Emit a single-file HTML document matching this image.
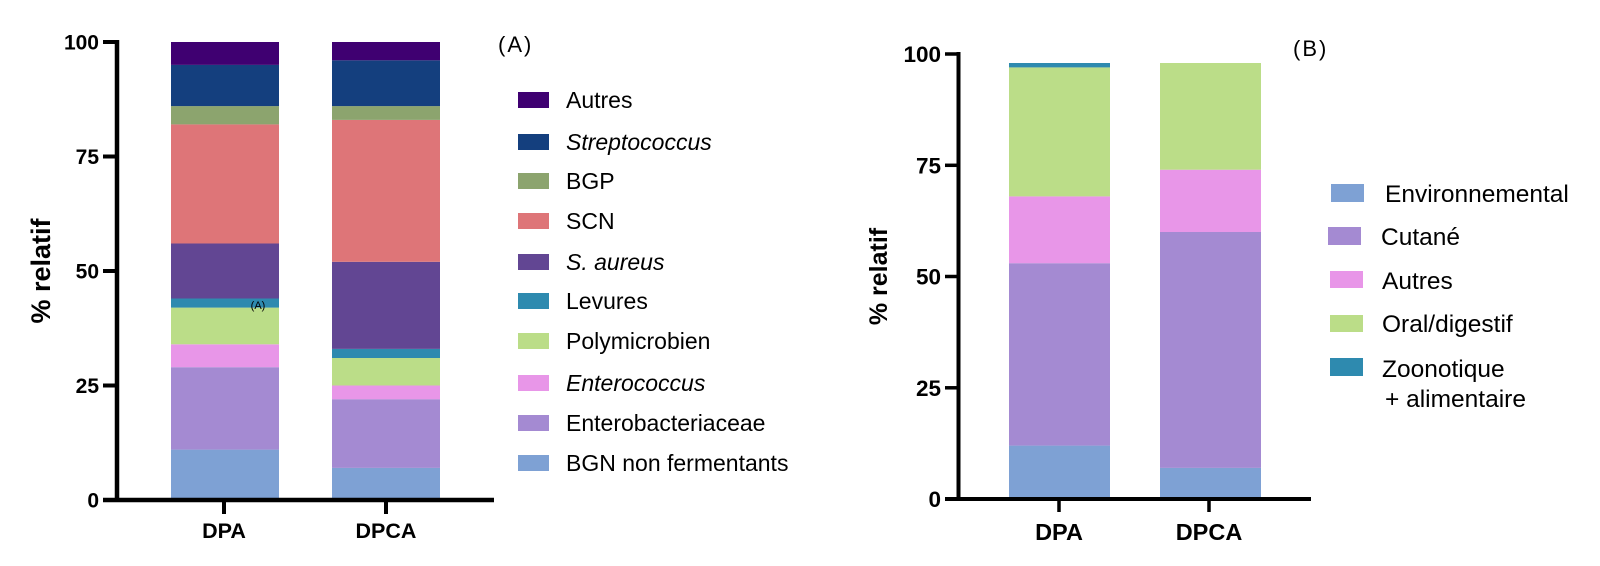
<!DOCTYPE html>
<html>
<head>
<meta charset="utf-8">
<style>
  html, body { margin: 0; padding: 0; background: #ffffff; }
  body { width: 1600px; height: 566px; overflow: hidden; }
  svg { display: block; }
  text { font-family: "Liberation Sans", Arial, sans-serif; fill: #000; }
  .b { font-weight: bold; }
</style>
</head>
<body>
<svg width="1600" height="566" viewBox="0 0 1600 566" xmlns="http://www.w3.org/2000/svg">
  <rect x="0" y="0" width="1600" height="566" fill="#ffffff"/>

  <!-- ============ LEFT CHART (A) ============ -->
  <!-- y(v) = 500 - 4.58 v -->
  <!-- DPA bar -->
  <g>
    <rect x="171" y="449.6" width="108" height="50.4" fill="#7ea1d4"/>
    <rect x="171" y="367.2" width="108" height="82.4" fill="#a48ad2"/>
    <rect x="171" y="344.3" width="108" height="22.9" fill="#e896e8"/>
    <rect x="171" y="307.6" width="108" height="36.7" fill="#bbdd88"/>
    <rect x="171" y="298.5" width="108" height="9.1" fill="#2e8aaf"/>
    <rect x="171" y="243.5" width="108" height="55.0" fill="#624693"/>
    <rect x="171" y="124.4" width="108" height="119.1" fill="#de7578"/>
    <rect x="171" y="106.1" width="108" height="18.3" fill="#8ca46e"/>
    <rect x="171" y="64.9" width="108" height="41.2" fill="#143f7e"/>
    <rect x="171" y="42" width="108" height="22.9" fill="#3f0071"/>
  </g>
  <text x="258" y="309" font-size="11" text-anchor="middle" fill="#222">(A)</text>
  <!-- DPCA bar -->
  <g>
    <rect x="332" y="467.9" width="108" height="32.1" fill="#7ea1d4"/>
    <rect x="332" y="399.2" width="108" height="68.7" fill="#a48ad2"/>
    <rect x="332" y="385.5" width="108" height="13.7" fill="#e896e8"/>
    <rect x="332" y="358.0" width="108" height="27.5" fill="#bbdd88"/>
    <rect x="332" y="348.9" width="108" height="9.1" fill="#2e8aaf"/>
    <rect x="332" y="261.8" width="108" height="87.1" fill="#624693"/>
    <rect x="332" y="119.9" width="108" height="141.9" fill="#de7578"/>
    <rect x="332" y="106.1" width="108" height="13.8" fill="#8ca46e"/>
    <rect x="332" y="60.3" width="108" height="45.8" fill="#143f7e"/>
    <rect x="332" y="42" width="108" height="18.3" fill="#3f0071"/>
  </g>

  <!-- axes -->
  <line x1="117" y1="40" x2="117" y2="502" stroke="#000" stroke-width="4.5"/>
  <line x1="103" y1="500" x2="494" y2="500" stroke="#000" stroke-width="4.5"/>
  <g stroke="#000" stroke-width="4">
    <line x1="103" y1="42" x2="117" y2="42"/>
    <line x1="103" y1="156.5" x2="117" y2="156.5"/>
    <line x1="103" y1="271" x2="117" y2="271"/>
    <line x1="103" y1="385.5" x2="117" y2="385.5"/>
    <line x1="224" y1="500" x2="224" y2="514"/>
    <line x1="386" y1="500" x2="386" y2="514"/>
  </g>
  <g class="b" font-size="21" text-anchor="end">
    <text x="99" y="49.5">100</text>
    <text x="99" y="164">75</text>
    <text x="99" y="278.5">50</text>
    <text x="99" y="393">25</text>
    <text x="99" y="507.5">0</text>
  </g>
  <g class="b" font-size="21.5" text-anchor="middle">
    <text x="224" y="538">DPA</text>
    <text x="386" y="538">DPCA</text>
  </g>
  <text class="b" font-size="27" text-anchor="middle" transform="translate(50,271) rotate(-90)">% relatif</text>

  <!-- legend A -->
  <text x="498" y="52" font-size="22" letter-spacing="2">(A)</text>
  <g>
    <rect x="518" y="92" width="31" height="16" fill="#3f0071"/>
    <rect x="518" y="134" width="31" height="16" fill="#143f7e"/>
    <rect x="518" y="173" width="31" height="16" fill="#8ca46e"/>
    <rect x="518" y="213" width="31" height="16" fill="#de7578"/>
    <rect x="518" y="254" width="31" height="16" fill="#624693"/>
    <rect x="518" y="293" width="31" height="16" fill="#2e8aaf"/>
    <rect x="518" y="333" width="31" height="16" fill="#bbdd88"/>
    <rect x="518" y="375" width="31" height="16" fill="#e896e8"/>
    <rect x="518" y="415" width="31" height="16" fill="#a48ad2"/>
    <rect x="518" y="455" width="31" height="16" fill="#7ea1d4"/>
  </g>
  <g font-size="23">
    <text x="566" y="108">Autres</text>
    <text x="566" y="150" font-style="italic">Streptococcus</text>
    <text x="566" y="189">BGP</text>
    <text x="566" y="229">SCN</text>
    <text x="566" y="270" font-style="italic">S. aureus</text>
    <text x="566" y="309">Levures</text>
    <text x="566" y="349">Polymicrobien</text>
    <text x="566" y="391" font-style="italic">Enterococcus</text>
    <text x="566" y="431">Enterobacteriaceae</text>
    <text x="566" y="471">BGN non fermentants</text>
  </g>

  <!-- ============ RIGHT CHART (B) ============ -->
  <!-- y(v) = 499 - 4.45 v -->
  <!-- DPA -->
  <g>
    <rect x="1009" y="445.6" width="101" height="53.4" fill="#7ea1d4"/>
    <rect x="1009" y="263.2" width="101" height="182.4" fill="#a48ad2"/>
    <rect x="1009" y="196.4" width="101" height="66.8" fill="#e896e8"/>
    <rect x="1009" y="67.4" width="101" height="129.0" fill="#bbdd88"/>
    <rect x="1009" y="63" width="101" height="4.4" fill="#2e8aaf"/>
  </g>
  <!-- DPCA -->
  <g>
    <rect x="1160" y="467.9" width="101" height="31.1" fill="#7ea1d4"/>
    <rect x="1160" y="232" width="101" height="235.9" fill="#a48ad2"/>
    <rect x="1160" y="169.7" width="101" height="62.3" fill="#e896e8"/>
    <rect x="1160" y="63" width="101" height="106.7" fill="#bbdd88"/>
  </g>

  <!-- axes -->
  <line x1="958.5" y1="52" x2="958.5" y2="501" stroke="#000" stroke-width="4"/>
  <line x1="945" y1="499" x2="1311" y2="499" stroke="#000" stroke-width="4"/>
  <g stroke="#000" stroke-width="3.5">
    <line x1="945" y1="54" x2="958" y2="54"/>
    <line x1="945" y1="165.3" x2="958" y2="165.3"/>
    <line x1="945" y1="276.5" x2="958" y2="276.5"/>
    <line x1="945" y1="387.8" x2="958" y2="387.8"/>
    <line x1="1059" y1="499" x2="1059" y2="512"/>
    <line x1="1209" y1="499" x2="1209" y2="512"/>
  </g>
  <g class="b" font-size="22.5" text-anchor="end">
    <text x="941" y="62">100</text>
    <text x="941" y="173.3">75</text>
    <text x="941" y="284.5">50</text>
    <text x="941" y="395.8">25</text>
    <text x="941" y="507">0</text>
  </g>
  <g class="b" font-size="23.5" text-anchor="middle">
    <text x="1059" y="540">DPA</text>
    <text x="1209" y="540">DPCA</text>
  </g>
  <text class="b" font-size="25" text-anchor="middle" transform="translate(887,276.5) rotate(-90)">% relatif</text>

  <!-- legend B -->
  <text x="1293" y="56" font-size="22" letter-spacing="2">(B)</text>
  <g>
    <rect x="1331" y="184" width="33" height="18" fill="#7ea1d4"/>
    <rect x="1328" y="227" width="33" height="18" fill="#a48ad2"/>
    <rect x="1330" y="271" width="33" height="17" fill="#e896e8"/>
    <rect x="1330" y="315" width="33" height="17" fill="#bbdd88"/>
    <rect x="1330" y="358" width="33" height="18" fill="#2e8aaf"/>
  </g>
  <g font-size="24.5">
    <text x="1385" y="202">Environnemental</text>
    <text x="1381" y="245">Cutané</text>
    <text x="1382" y="289">Autres</text>
    <text x="1382" y="332">Oral/digestif</text>
    <text x="1382" y="377">Zoonotique</text>
    <text x="1385" y="407">+ alimentaire</text>
  </g>
</svg>
</body>
</html>
